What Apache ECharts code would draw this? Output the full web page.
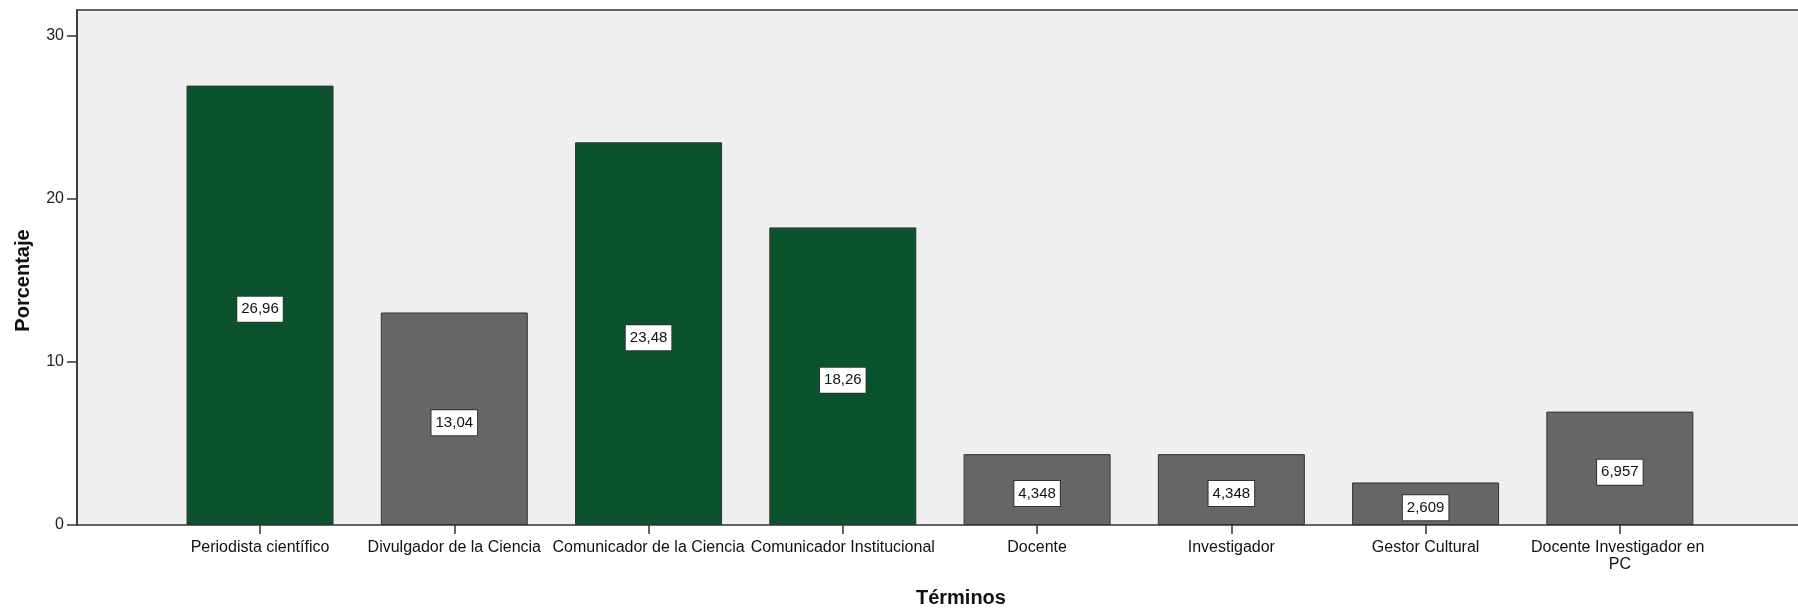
<!DOCTYPE html>
<html>
<head>
<meta charset="utf-8">
<script src="https://cdn.jsdelivr.net/npm/echarts@6/dist/echarts.min.js"></script>
<style>
  body { margin: 0; background: #fff; }
  #chart { width: 1798px; height: 609px; }
</style>
</head>
<body>
<div id="chart"></div>
<script>
// categorías y porcentajes
const terminos = ['Periodista científico', 'Divulgador de la Ciencia', 'Comunicador de la Ciencia',
  'Comunicador Institucional', 'Docente', 'Investigador', 'Gestor Cultural', 'Docente Investigador en PC'];
const porcentajes = [26.96, 13.04, 23.48, 18.26, 4.348, 4.348, 2.609, 6.957];
// términos resaltados en verde
const destacados = ['Periodista científico', 'Comunicador de la Ciencia', 'Comunicador Institucional'];
const yTicks = [0, 10, 20, 30];

const FONT = 'Liberation Sans, Arial, sans-serif';
const Y_MAX = 31.6;

// formato con coma decimal (estilo SPSS)
function formatoValor(v) {
  return Number(v).toPrecision(4).replace('.', ',');
}

const chart = echarts.init(document.getElementById('chart'));

const option = {
  animation: false,
  textStyle: { fontFamily: FONT },
  grid: [
    // marco y fondo gris
    { left: 77, right: -2, top: 10, bottom: 84, show: true, backgroundColor: '#efefef',
      borderColor: '#333', borderWidth: 1.5, outerBoundsMode: 'none', containLabel: false },
    // zona de barras
    { left: 162.9, right: 81, top: 10, bottom: 84, outerBoundsMode: 'none', containLabel: false }
  ],
  xAxis: [
    { gridIndex: 0, type: 'value', show: false, min: 0, max: 1 },
    {
      gridIndex: 1,
      type: 'category',
      data: terminos,
      axisLine: { show: false },
      axisTick: { show: true, alignWithLabel: true, length: 9, lineStyle: { color: '#333', width: 1.5 } },
      axisLabel: {
        interval: 0, margin: 14, fontSize: 16, lineHeight: 17, color: '#111',
        width: 196, overflow: 'break', fontFamily: FONT
      },
      name: 'Términos',
      nameLocation: 'middle',
      nameGap: 63,
      nameTextStyle: { fontSize: 20, fontWeight: 'bold', color: '#111', padding: [0, 0, 0, 42], fontFamily: FONT }
    }
  ],
  yAxis: [
    {
      gridIndex: 0,
      type: 'value',
      min: 0,
      max: Y_MAX,
      interval: 10,
      splitLine: { show: false },
      axisLine: { show: true, lineStyle: { color: '#333', width: 1.5 } },
      axisTick: { show: true, length: 10, customValues: yTicks, lineStyle: { color: '#333', width: 1.5 } },
      axisLabel: { margin: 13, fontSize: 16, color: '#222', customValues: yTicks, fontFamily: FONT },
      name: 'Porcentaje',
      nameLocation: 'middle',
      nameGap: 44,
      nameTextStyle: { fontSize: 20, fontWeight: 'bold', color: '#111', padding: [0, 26, 0, 0], fontFamily: FONT }
    },
    { gridIndex: 1, type: 'value', min: 0, max: Y_MAX, show: false }
  ],
  series: [
    {
      type: 'bar',
      xAxisIndex: 1,
      yAxisIndex: 1,
      barWidth: 147,
      data: porcentajes.map((v, i) => ({
        value: v,
        itemStyle: { color: destacados.includes(terminos[i]) ? '#0a532d' : '#666666' }
      })),
      itemStyle: { borderColor: '#333', borderWidth: 1 },
      label: {
        show: true,
        position: 'inside',
        offset: [0, 4],
        formatter: p => formatoValor(p.value),
        fontSize: 15,
        lineHeight: 17,
        color: '#111',
        backgroundColor: '#fff',
        borderColor: '#333',
        borderWidth: 1,
        padding: [4, 4, 4, 4],
        fontFamily: FONT
      }
    }
  ]
};

chart.setOption(option);
</script>
</body>
</html>
